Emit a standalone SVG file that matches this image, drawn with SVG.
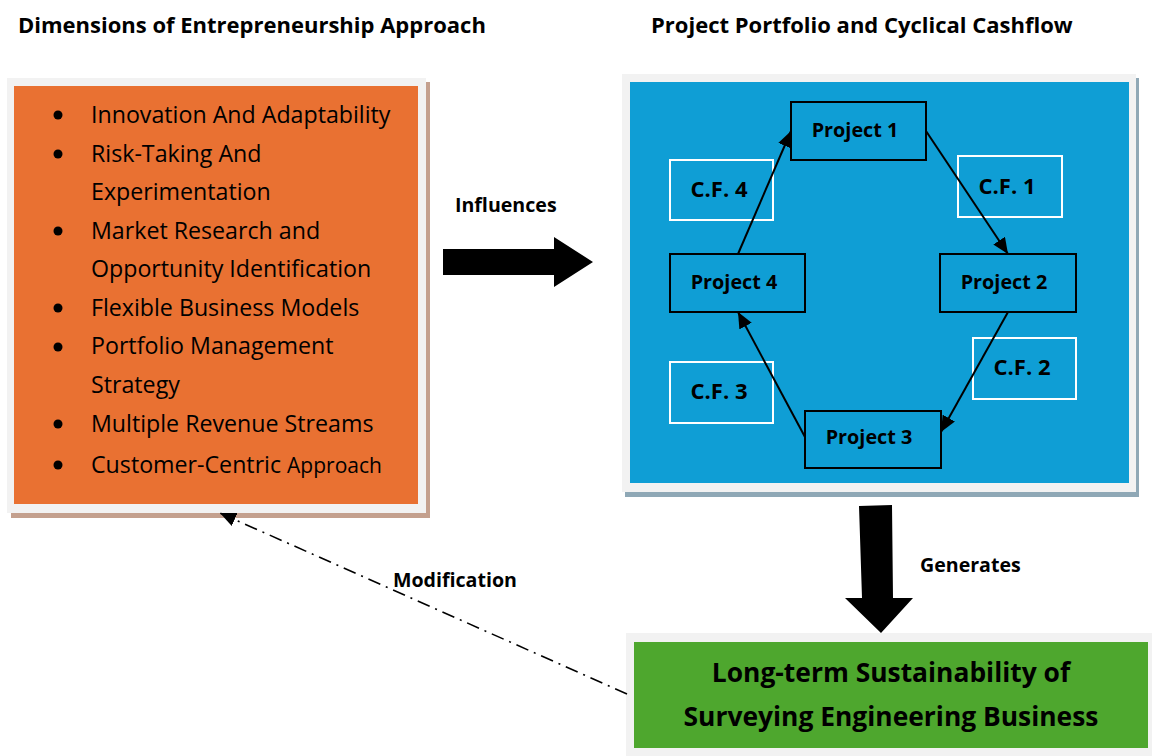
<svg xmlns="http://www.w3.org/2000/svg" width="1152" height="756" viewBox="0 0 1152 756">
<style>
  .t { font-family: "Open Sans", "Liberation Sans", sans-serif; fill: #000; }
  .b { font-weight: bold; }
  .title { font-size: 22px; font-weight: bold; }
  .item { font-size: 23.2px; }
  .proj { fill: none; stroke: #000; stroke-width: 2; }
  .cf { fill: none; stroke: #fff; stroke-width: 2; }
  .pt { font-size: 19.8px; font-weight: bold; text-anchor: middle; }
  .ct { font-size: 22px; font-weight: bold; text-anchor: middle; }
  .lbl { font-size: 19.6px; font-weight: bold; }
  .conn { stroke: #000; stroke-width: 2; fill: none; }
</style>
<defs>
  <marker id="ah" markerUnits="userSpaceOnUse" markerWidth="16" markerHeight="14" refX="16" refY="7" orient="auto">
    <path d="M0,0 L16,7 L0,14 Z" fill="#000"/>
  </marker>
</defs>
<rect x="0" y="0" width="1152" height="756" fill="#fff"/>

<g id="titles">
  <text class="t title" x="18" y="33">Dimensions of Entrepreneurship Approach</text>
  <text class="t title" x="651" y="33">Project Portfolio and Cyclical Cashflow</text>
</g>

<g id="dimensions">
  <rect x="11" y="82" width="419" height="436" fill="#C4A08E"/>
  <rect x="7" y="78" width="419" height="435" fill="#F2F2F2"/>
  <rect x="14" y="86" width="404" height="418" fill="#E97132"/>
  <g fill="#000">
    <circle cx="58" cy="115" r="4.5"/>
    <circle cx="58" cy="154" r="4.5"/>
    <circle cx="58" cy="231" r="4.5"/>
    <circle cx="58" cy="308" r="4.5"/>
    <circle cx="58" cy="347" r="4.5"/>
    <circle cx="58" cy="424" r="4.5"/>
    <circle cx="58" cy="465" r="4.5"/>
  </g>
  <text class="t item" x="91" y="123">Innovation And Adaptability</text>
  <text class="t item" x="91" y="162">Risk-Taking And</text>
  <text class="t item" x="91" y="200">Experimentation</text>
  <text class="t item" x="91" y="239">Market Research and</text>
  <text class="t item" x="91" y="277">Opportunity Identification</text>
  <text class="t item" x="91" y="316">Flexible Business Models</text>
  <text class="t item" x="91" y="354">Portfolio Management</text>
  <text class="t item" x="91" y="393">Strategy</text>
  <text class="t item" x="91" y="432">Multiple Revenue Streams</text>
  <text class="t item" x="91" y="473">Customer-Centric <tspan font-size="21">Approach</tspan></text>
</g>

<g id="portfolio">
  <rect x="625" y="78" width="514" height="419" fill="#8FA8B6"/>
  <rect x="622" y="74" width="514" height="418" fill="#F2F2F2"/>
  <rect x="630" y="82" width="499" height="401" fill="#0F9ED5"/>
</g>

<g id="project1">
  <rect class="proj" x="791" y="102" width="135" height="58"/>
  <text class="t pt" x="855" y="137">Project 1</text>
</g>
<g id="project2">
  <rect class="proj" x="940" y="254" width="136" height="58"/>
  <text class="t pt" x="1004" y="289">Project 2</text>
</g>
<g id="project3">
  <rect class="proj" x="805" y="411" width="136" height="57"/>
  <text class="t pt" x="869" y="444">Project 3</text>
</g>
<g id="project4">
  <rect class="proj" x="670" y="254" width="135" height="58"/>
  <text class="t pt" x="734" y="289">Project 4</text>
</g>
<g id="cf1">
  <rect class="cf" x="958" y="156" width="104" height="61"/>
  <text class="t ct" x="1007" y="194">C.F. 1</text>
</g>
<g id="cf2">
  <rect class="cf" x="973" y="338" width="103" height="61"/>
  <text class="t ct" x="1022" y="375">C.F. 2</text>
</g>
<g id="cf3">
  <rect class="cf" x="670" y="362" width="103" height="61"/>
  <text class="t ct" x="719" y="399">C.F. 3</text>
</g>
<g id="cf4">
  <rect class="cf" x="670" y="160" width="103" height="60"/>
  <text class="t ct" x="719" y="197">C.F. 4</text>
</g>

<g id="sustainability">
  <rect x="626" y="633" width="526" height="123" fill="#F2F2F2"/>
  <rect x="634" y="642" width="514" height="106" fill="#4EA72E"/>
  <text class="t b" font-size="26.4" text-anchor="middle" x="891" y="682">Long-term Sustainability of</text>
  <text class="t b" font-size="26.4" text-anchor="middle" x="891" y="726">Surveying Engineering Business</text>
</g>

<g id="connectors">
  <line class="conn" x1="926" y1="131" x2="1008" y2="254" marker-end="url(#ah)"/>
  <line class="conn" x1="1008" y1="312" x2="941" y2="432" marker-end="url(#ah)"/>
  <line class="conn" x1="805" y1="437" x2="738" y2="312" marker-end="url(#ah)"/>
  <line class="conn" x1="738" y1="254" x2="791" y2="131" marker-end="url(#ah)"/>
  <polygon points="443,249 554,249 554,237 593,262 554,287 554,275 443,275" fill="#000"/>
  <text class="t lbl" x="455" y="212">Influences</text>
  <polygon points="859,506 892,505 893,598 913,598 881,633 845,598 862,598" fill="#000"/>
  <text class="t lbl" x="920" y="572">Generates</text>
  <line x1="627" y1="694" x2="220" y2="513" stroke="#000" stroke-width="1.6" stroke-dasharray="13 6 2 6" marker-end="url(#ah)"/>
  <text class="t lbl" x="393" y="587">Modification</text>
</g>
</svg>
